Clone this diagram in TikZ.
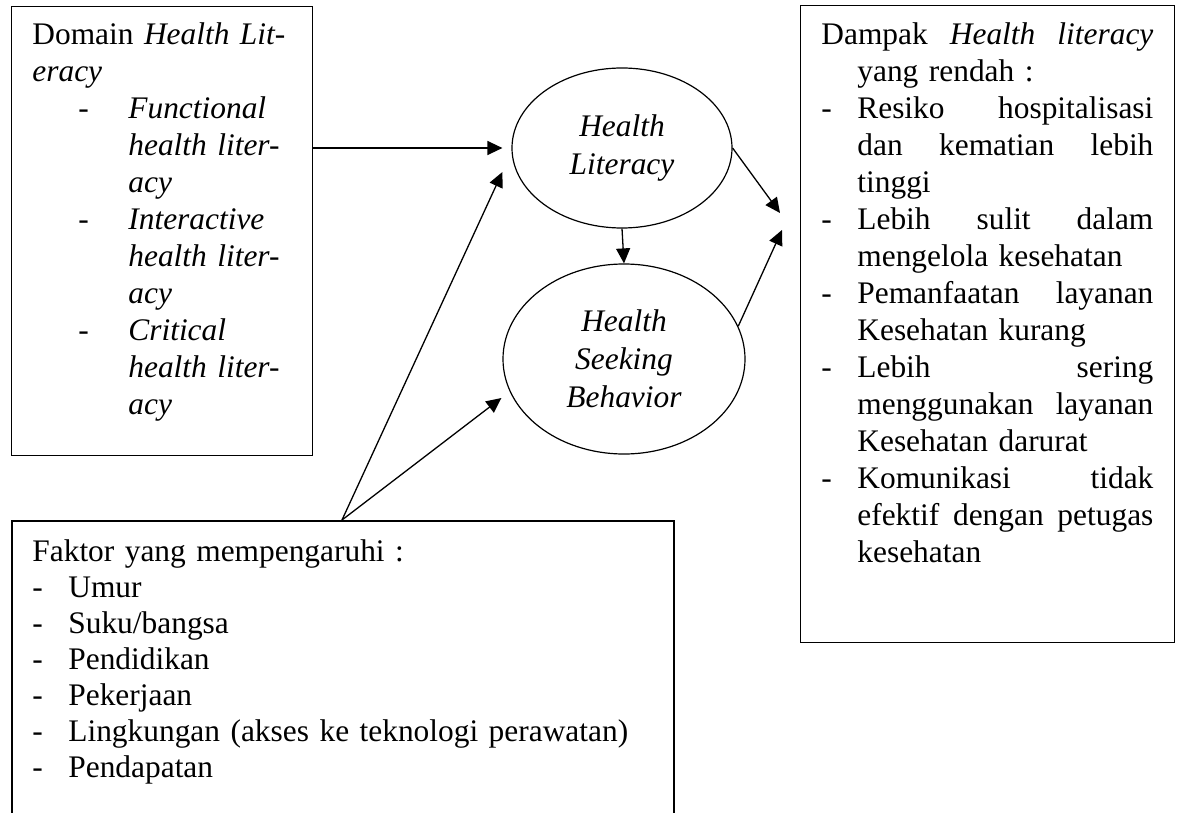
\documentclass[tikz,border=0pt]{standalone}
\usepackage{fontspec}
\setmainfont{Liberation Serif}
\usetikzlibrary{arrows.meta,calc,shapes.geometric}

% justified line of an item
\newcommand{\jl}[1]{\makebox[148pt][s]{#1}}

\begin{document}
\begin{tikzpicture}[x=0.5pt,y=-0.5pt,
  box/.style={draw, line width=0.6pt, inner sep=0pt, anchor=north west},
  oval/.style={draw, ellipse, line width=0.6pt, inner sep=0pt, align=center,
    font=\fontsize{15.7pt}{19pt}\selectfont\itshape},
  txt/.style={inner sep=0pt, anchor=base west, align=left,
    font=\fontsize{15.7pt}{18.5pt}\selectfont},
  arr/.style={-{Triangle[length=7.5pt,width=7pt]}, line width=0.65pt}]

\useasboundingbox (0,0) rectangle (1179,813);
\clip (0,0) rectangle (1179,813);

% Kotak
\node[box, minimum width=150.5pt, minimum height=224.5pt] (domain) at (11,6) {};
\node[box, minimum width=187pt, minimum height=318.5pt] (dampak) at (800,5) {};
\node[box, line width=0.9pt, minimum width=331pt, minimum height=160pt] (faktor) at (11,520) {};
\coordinate (apex) at (342,520);

% Elips
\node[oval, minimum width=110pt, minimum height=80pt] (hl) at (622,148) {Health\\Literacy};
\node[oval, minimum width=121pt, minimum height=95pt] (hsb) at (624,359) {Health\\Seeking\\Behavior};

% Teks domain
\node[txt, text width=135pt] (domaintxt) at (32,45) {Domain \textit{Health Lit-}\\
\textit{eracy}\\
\hspace*{23pt}\makebox[25pt][l]{-}\textit{Functional}\\
\hspace*{48pt}\textit{health liter-}\\
\hspace*{48pt}\textit{acy}\\
\hspace*{23pt}\makebox[25pt][l]{-}\textit{Interactive}\\
\hspace*{48pt}\textit{health liter-}\\
\hspace*{48pt}\textit{acy}\\
\hspace*{23pt}\makebox[25pt][l]{-}\textit{Critical}\\
\hspace*{48pt}\textit{health liter-}\\
\hspace*{48pt}\textit{acy}};

% Teks dampak
\node[txt, text width=166pt] (dampaktxt) at (821,45) {\makebox[166pt][s]{Dampak\hfill\textit{Health}\hfill\textit{literacy}}\\
\hspace*{18pt}yang rendah :\\
\makebox[18pt][l]{-}\jl{Resiko\hfill hospitalisasi}\\
\hspace*{18pt}\jl{dan\hfill kematian\hfill lebih}\\
\hspace*{18pt}tinggi\\
\makebox[18pt][l]{-}\jl{Lebih\hfill sulit\hfill dalam}\\
\hspace*{18pt}mengelola kesehatan\\
\makebox[18pt][l]{-}\jl{Pemanfaatan\hfill layanan}\\
\hspace*{18pt}Kesehatan kurang\\
\makebox[18pt][l]{-}\jl{Lebih\hfill sering}\\
\hspace*{18pt}\jl{menggunakan\hfill layanan}\\
\hspace*{18pt}Kesehatan darurat\\
\makebox[18pt][l]{-}\jl{Komunikasi\hfill tidak}\\
\hspace*{18pt}\jl{efektif\hfill dengan\hfill petugas}\\
\hspace*{18pt}kesehatan};

% Teks faktor
\node[txt, text width=320pt, font=\fontsize{15.7pt}{18pt}\selectfont] (faktortxt) at (32,561) {Faktor yang mempengaruhi :\\
\makebox[18pt][l]{-}Umur\\
\makebox[18pt][l]{-}Suku/bangsa\\
\makebox[18pt][l]{-}Pendidikan\\
\makebox[18pt][l]{-}Pekerjaan\\
\makebox[18pt][l]{-}Lingkungan (akses ke teknologi perawatan)\\
\makebox[18pt][l]{-}Pendapatan};

% Panah
\draw[arr] (domain.east |- hl.west) -- ($(hl.west)+(-9,0)$);
\draw[arr] (hl.south) -- (hsb.north);
\draw[arr] (apex) -- ($(hl.west)+(-9,24)$);
\draw[arr] (apex) -- ($(hsb.west)+(-1,39)$);
\draw[arr] (hl.east) -- ($(dampak.north west)+(-20,208)$);
\draw[arr] (hsb.16) -- ($(dampak.north west)+(-18,225)$);

\end{tikzpicture}
\end{document}
